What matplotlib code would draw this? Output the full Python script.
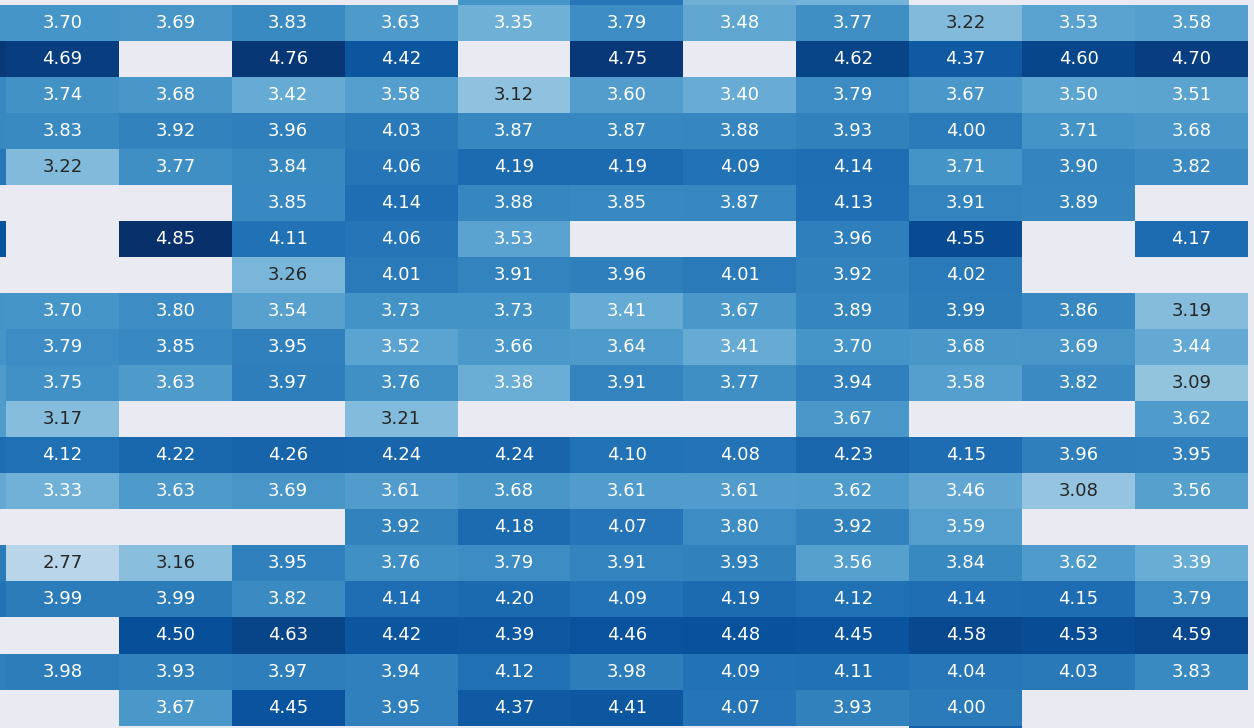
import numpy as np
import matplotlib
matplotlib.use("Agg")
import matplotlib.pyplot as plt
import seaborn as sns

nan = np.nan

# Fully visible block: 20 rows x 11 columns (blank = missing value)
r01 = [3.70, 3.69, 3.83, 3.63, 3.35, 3.79, 3.48, 3.77, 3.22, 3.53, 3.58]
r02 = [4.69, nan, 4.76, 4.42, nan, 4.75, nan, 4.62, 4.37, 4.60, 4.70]
r03 = [3.74, 3.68, 3.42, 3.58, 3.12, 3.60, 3.40, 3.79, 3.67, 3.50, 3.51]
r04 = [3.83, 3.92, 3.96, 4.03, 3.87, 3.87, 3.88, 3.93, 4.00, 3.71, 3.68]
r05 = [3.22, 3.77, 3.84, 4.06, 4.19, 4.19, 4.09, 4.14, 3.71, 3.90, 3.82]
r06 = [nan, nan, 3.85, 4.14, 3.88, 3.85, 3.87, 4.13, 3.91, 3.89, nan]
r07 = [nan, 4.85, 4.11, 4.06, 3.53, nan, nan, 3.96, 4.55, nan, 4.17]
r08 = [nan, nan, 3.26, 4.01, 3.91, 3.96, 4.01, 3.92, 4.02, nan, nan]
r09 = [3.70, 3.80, 3.54, 3.73, 3.73, 3.41, 3.67, 3.89, 3.99, 3.86, 3.19]
r10 = [3.79, 3.85, 3.95, 3.52, 3.66, 3.64, 3.41, 3.70, 3.68, 3.69, 3.44]
r11 = [3.75, 3.63, 3.97, 3.76, 3.38, 3.91, 3.77, 3.94, 3.58, 3.82, 3.09]
r12 = [3.17, nan, nan, 3.21, nan, nan, nan, 3.67, nan, nan, 3.62]
r13 = [4.12, 4.22, 4.26, 4.24, 4.24, 4.10, 4.08, 4.23, 4.15, 3.96, 3.95]
r14 = [3.33, 3.63, 3.69, 3.61, 3.68, 3.61, 3.61, 3.62, 3.46, 3.08, 3.56]
r15 = [nan, nan, nan, 3.92, 4.18, 4.07, 3.80, 3.92, 3.59, nan, nan]
r16 = [2.77, 3.16, 3.95, 3.76, 3.79, 3.91, 3.93, 3.56, 3.84, 3.62, 3.39]
r17 = [3.99, 3.99, 3.82, 4.14, 4.20, 4.09, 4.19, 4.12, 4.14, 4.15, 3.79]
r18 = [nan, 4.50, 4.63, 4.42, 4.39, 4.46, 4.48, 4.45, 4.58, 4.53, 4.59]
r19 = [3.98, 3.93, 3.97, 3.94, 4.12, 3.98, 4.09, 4.11, 4.04, 4.03, 3.83]
r20 = [nan, 3.67, 4.45, 3.95, 4.37, 4.41, 4.07, 3.93, 4.00, nan, nan]

# cut-off cells at the edges (only a sliver of them shows)
edge_left = [3.70, 4.75, 3.85, 3.85, 4.05, nan, 4.45, nan, 3.72, 3.72,
             3.62, 3.62, 4.15, 3.45, nan, 4.00, 4.10, nan, 3.95, nan]
edge_top = [nan, nan, nan, nan, 3.70, 4.05, 3.35, 3.30, nan, nan, nan]
edge_bottom = [nan, nan, nan, nan, nan, nan, nan, nan, 4.30, nan, nan]

rows = [r01, r02, r03, r04, r05, r06, r07, r08, r09, r10,
        r11, r12, r13, r14, r15, r16, r17, r18, r19, r20]

# assemble grid: extra column on the left, extra row top and bottom
body = np.column_stack([edge_left, np.array(rows)])
top = np.array([nan] + edge_top)
bottom = np.array([nan] + edge_bottom)
grid = np.vstack([top, body, bottom])

# labels only for the fully visible cells
labels = np.full(grid.shape, "", dtype=object)
vals = np.array(rows)
for i in range(vals.shape[0]):
    for j in range(vals.shape[1]):
        if not np.isnan(vals[i, j]):
            labels[i + 1, j + 1] = f"{vals[i, j]:.2f}"

sns.set_style("darkgrid")

fig = plt.figure(figsize=(12.54, 7.28), dpi=100)
ax = fig.add_axes([0, 0, 1, 1])
sns.heatmap(grid, ax=ax, cmap="Blues", vmin=1.9, vmax=4.85,
            annot=labels, fmt="", cbar=False,
            annot_kws={"fontsize": 13})
ax.grid(False)
ax.set_xticks([])
ax.set_yticks([])

# only a window of the full heatmap is visible
ax.set_xlim(0.947, 12.054)
ax.set_ylim(21.066, 0.872)

fig.savefig("out.png", dpi=100)
